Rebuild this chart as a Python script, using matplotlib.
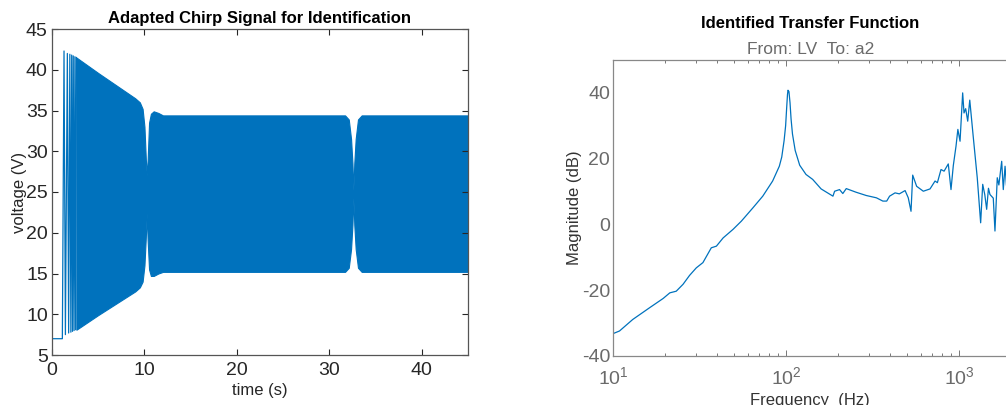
import numpy as np
import matplotlib
matplotlib.use('Agg')
import matplotlib.pyplot as plt
from matplotlib.ticker import LogLocator, NullFormatter

plt.rcParams['font.family'] = ['Liberation Sans', 'DejaVu Sans']
plt.rcParams['axes.unicode_minus'] = False

# --- chirp signal ---
# flat start and the first few slow cycles, as peak/trough vertices
cycle_t = [0.0, 1.12, 1.30, 1.45, 1.66, 1.80, 1.93, 2.04, 2.13, 2.22, 2.30, 2.39, 2.48, 2.56, 2.64]
cycle_v = [7.0, 7.0, 42.3, 7.5, 42.0, 7.7, 41.9, 7.8, 41.8, 7.9, 41.7, 8.0, 41.6, 8.1, 41.5]

# envelope of the dense part
env_t = [2.64, 5.0, 9.0, 9.5, 9.8, 10.0, 10.15, 10.25, 10.35, 10.5, 10.7, 11.0, 11.5, 12.0,
         31.7, 32.1, 32.35, 32.5, 32.6, 32.7, 32.85, 33.1, 33.5, 45.0]
env_hi = [41.5, 39.6, 36.5, 36.0, 35.2, 33.0, 29.0, 27.0, 29.0, 33.5, 34.6, 34.9, 34.7, 34.4,
          34.4, 33.9, 31.5, 28.5, 25.2, 28.5, 31.5, 33.9, 34.4, 34.4]
env_lo = [8.1, 9.9, 12.8, 13.3, 14.0, 16.0, 19.5, 22.4, 19.0, 15.5, 14.7, 14.7, 15.0, 15.2,
          15.2, 15.7, 18.0, 21.0, 24.3, 21.0, 18.0, 15.7, 15.2, 15.2]

# --- identified frequency response ---
freq = [10, 10.9, 13.0, 16.3, 19.5, 21.3, 23.2, 25.4, 27.7, 30.3, 33.1, 37.0, 39.6, 43.3,
        49.4, 55.2, 64.5, 73.4, 83.7, 91.5, 94.5, 97.5, 99.5, 100.9, 102.0, 102.7, 104.0,
        105.5, 107.0, 109.0, 113.0, 120.0, 130.5, 142.6, 159.6, 186.8, 191, 204, 213, 223,
        254, 291, 333, 363, 382, 397, 427, 452, 488, 509, 528, 540, 569, 622, 680, 727, 750,
        787, 820, 867, 899, 927, 961, 985, 1014, 1050, 1069, 1093, 1123, 1154, 1208, 1275,
        1334, 1371, 1410, 1445, 1480, 1510, 1578, 1614, 1664, 1700, 1765, 1803, 1846, 1880]
mag_db = [-33.2, -32.4, -28.9, -25.3, -22.5, -20.8, -20.3, -18.2, -15.5, -13.2, -11.6, -7.1,
          -6.6, -4.1, -1.5, 1.0, 5.1, 8.6, 13.2, 17.7, 20.5, 25.5, 30.0, 35.5, 39.5, 40.8,
          40.4, 37.0, 32.0, 27.5, 22.5, 18.0, 15.2, 13.7, 10.8, 8.6, 10.1, 10.6, 9.4, 10.9,
          9.8, 8.8, 8.1, 7.1, 7.1, 8.6, 9.6, 9.3, 10.3, 8.1, 4.0, 15.0, 11.6, 10.1, 10.8,
          13.2, 12.7, 16.7, 16.2, 18.4, 10.6, 17.9, 23.8, 28.9, 25.3, 40.0, 33.9, 35.2, 31.4,
          37.8, 26.8, 14.2, 0.5, 12.2, 9.0, 4.6, 11.0, 9.1, 8.0, -2.0, 14.2, 12.0, 19.2, 10.6,
          17.7, 12.0]

blue = '#0072BD'
W, H = 1006, 405
fig = plt.figure(figsize=(W / 100, H / 100), dpi=100)

# left: chirp
ax1 = fig.add_axes([52 / W, 50 / H, 416 / W, 326 / H])
ax1.fill_between(env_t, env_lo, env_hi, color=blue, lw=0.8, edgecolor=blue)
ax1.plot(cycle_t, cycle_v, color=blue, lw=0.9)
ax1.set_xlim(0, 45)
ax1.set_ylim(5, 45)
ax1.set_xticks(np.arange(0, 41, 10))
ax1.set_yticks(np.arange(5, 46, 5))
ax1.tick_params(direction='in', top=True, right=True, length=4, width=0.8,
                labelsize=14, labelcolor='#262626', color='#262626', pad=3)
ax1.tick_params(axis='x', pad=5)
for s in ax1.spines.values():
    s.set_color('#555555')
    s.set_linewidth(0.9)
ax1.set_xlabel('time (s)', fontsize=12, color='#262626', labelpad=3)
ax1.set_ylabel('voltage (V)', fontsize=12, color='#262626')
ax1.yaxis.set_label_coords(-25 / 416, 0.5)
ax1.set_title('Adapted Chirp Signal for Identification', fontsize=12,
              fontweight='bold', pad=4)

# right: bode magnitude (axes runs past the right edge)
gray = '#6a6a6a'
ax2 = fig.add_axes([613 / W, 49 / H, 173 * 2.4 / W, 296 / H])
ax2.semilogx(freq, mag_db, color=blue, lw=0.9)
ax2.set_xlim(10, 10 ** 3.4)
ax2.set_ylim(-40, 50)
ax2.set_yticks([-40, -20, 0, 20, 40])
ax2.xaxis.set_major_locator(LogLocator(base=10))
ax2.xaxis.set_minor_locator(LogLocator(base=10, subs=np.arange(2, 10)))
ax2.xaxis.set_minor_formatter(NullFormatter())
ax2.tick_params(which='both', direction='in', top=True, right=False,
                color='#777777', width=0.7)
ax2.tick_params(which='major', length=4, labelsize=14, labelcolor=gray, pad=7)
ax2.tick_params(which='minor', length=2)
ax2.tick_params(axis='y', length=0, pad=2)
for s in ax2.spines.values():
    s.set_color('#888888')
    s.set_linewidth(0.9)
ax2.set_ylabel('Magnitude (dB)', fontsize=12, color='#333333')
ax2.yaxis.set_label_coords(-31 / (173 * 2.4), 0.5)

fig.text(810 / W, 1 - 23 / H, 'Identified Transfer Function', ha='center', va='center',
         fontsize=12, fontweight='bold')
fig.text(811 / W, 1 - 50 / H, 'From: LV  To: a2', ha='center', va='center',
         fontsize=12.5, color=gray)
# the reference crops this label at the bottom edge
fig.text(810 / W, 1 - 393 / H, 'Frequency  (Hz)', ha='center', va='top',
         fontsize=12, color='#333333')

fig.savefig('out.png', dpi=100)
